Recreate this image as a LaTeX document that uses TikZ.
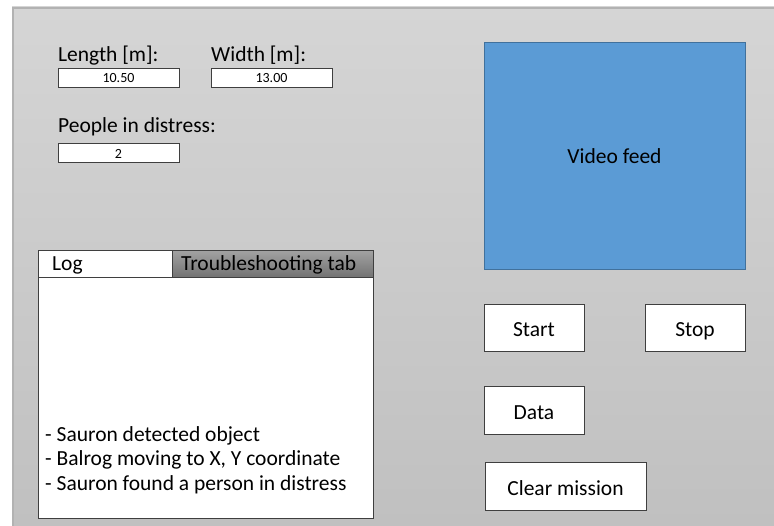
\documentclass[tikz,border=0pt]{standalone}
\usepackage{fontspec}
\setmainfont{Carlito}
\usepackage{tikz}
\usetikzlibrary{positioning}
\definecolor{panelTop}{HTML}{D5D5D5}
\definecolor{panelBot}{HTML}{C0C0C0}
\definecolor{panelEdge}{HTML}{B2B2B2}
\definecolor{frameGray}{HTML}{3F3F3F}
\definecolor{feedBlue}{HTML}{5B9BD5}
\definecolor{feedEdge}{HTML}{41719C}
\definecolor{tabTop}{HTML}{A2A2A2}
\definecolor{tabBot}{HTML}{727272}

\begin{document}
\begin{tikzpicture}[x=1pt,y=-1pt,
lbl/.style={font=\fontsize{21.5}{24}\selectfont,inner sep=0pt},
field/.style={draw=frameGray,fill=white,line width=1pt,minimum width=121pt,minimum height=19pt,inner sep=0pt,font=\fontsize{14}{16}\selectfont},
btn/.style={draw=frameGray,fill=white,line width=1pt,minimum width=100pt,minimum height=47pt,inner sep=0pt,text height=20pt,text depth=3pt,font=\fontsize{21.5}{24}\selectfont},
tab/.style={draw=frameGray,line width=1pt,minimum height=27pt,inner sep=0pt,anchor=north west}]
\useasboundingbox (0,0) rectangle (774,526);
\fill[white] (0,0) rectangle (774,526);
\shade[top color=panelTop,bottom color=panelBot] (12,7) rectangle (774,526);
\draw[panelEdge,line width=2pt] (13,526)--(13,8)--(774,8);
% room size and people
\node[lbl,anchor=base west] (lenlbl) at (58,62) {Length [m]:};
\node[lbl,anchor=base west] (widlbl) at (211,62) {Width [m]:};
\node[field] (lenbox) at (118.5,78.5) {10.50};
\node[field] (widbox) at (271.5,78.5) {13.00};
\node[lbl,anchor=base west] (pplbl) at (58,133) {People in distress:};
\node[field] (ppbox) at (118.5,153.5) {2};
% camera
\node[draw=feedEdge,fill=feedBlue,line width=1pt,minimum width=261pt,minimum height=227pt,inner sep=0pt,font=\fontsize{21.5}{24}\selectfont] (feed) at (614.5,156.5) {Video feed};
% log pane with tabs
\node[draw=frameGray,fill=white,line width=1pt,minimum width=335pt,minimum height=241pt,inner sep=0pt] (logpane) at (205.5,397.5) {};
\node[tab,fill=white,minimum width=134pt] (logtab) at (38,250) {};
\node[tab,top color=tabTop,bottom color=tabBot,minimum width=201pt] (troubletab) at (172,250) {};
\node[lbl,anchor=base west] (logtxt) at ([xshift=14pt,yshift=7pt]logtab.south west) {Log};
\node[lbl,anchor=base west] (troubletxt) at ([xshift=9pt,yshift=7pt]troubletab.south west) {Troubleshooting tab};
\node[lbl,anchor=base west] (logline1) at (45,442) {- Sauron detected object};
\node[lbl,anchor=base west] (logline2) at (45,466) {- Balrog moving to X, Y coordinate};
\node[lbl,anchor=base west] (logline3) at (45,490) {- Sauron found a person in distress};
% buttons
\node[btn] (start) at (534,328.5) {Start};
\node[btn] (stop) at (695,328.5) {Stop};
\node[btn,minimum height=48pt] (data) at (534,411) {Data};
\node[btn,minimum width=161pt] (clear) at (565.5,486.5) {Clear mission};
\end{tikzpicture}
\end{document}
